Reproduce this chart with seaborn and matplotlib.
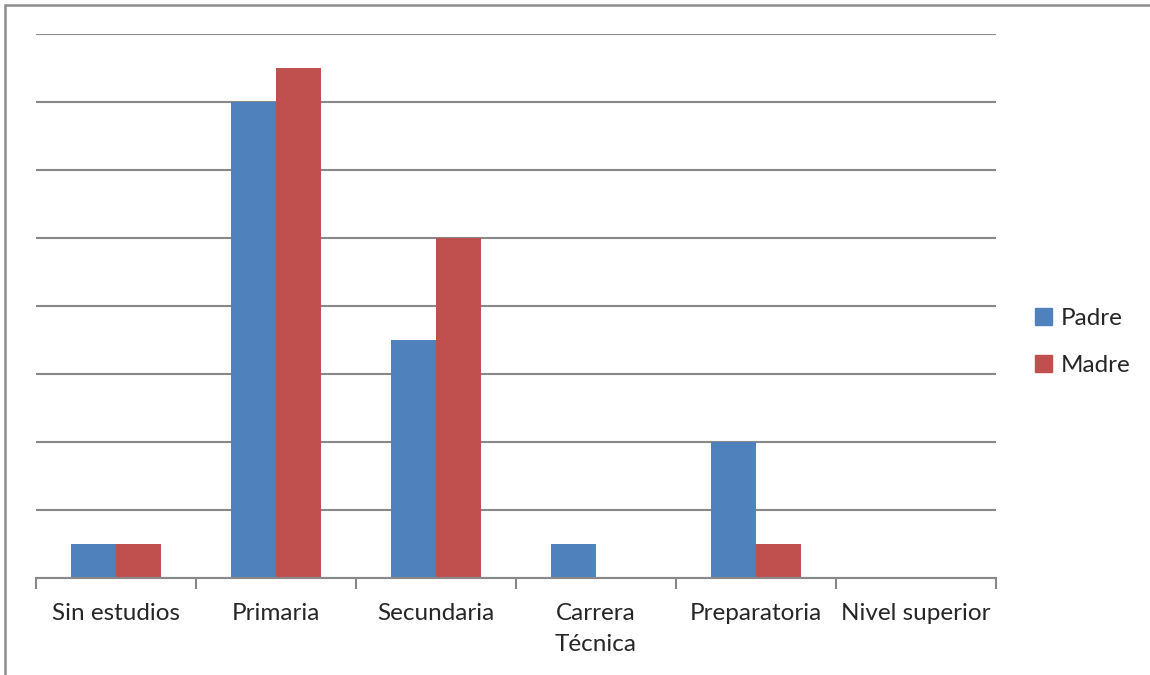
import numpy as np
import pandas as pd
import seaborn as sns
import matplotlib.pyplot as plt
from matplotlib.patches import Rectangle, Patch

categorias = ['Sin estudios', 'Primaria', 'Secundaria', 'Carrera\nTécnica', 'Preparatoria', 'Nivel superior']
padre = [1, 14, 7, 1, 4, 0]
madre = [1, 15, 10, 0, 1, 0]
series = ['Padre', 'Madre']
colores = ['#4F81BD', '#C0504D']

df = pd.DataFrame({'Nivel': categorias * 2,
                   'Valor': padre + madre,
                   'Serie': ['Padre'] * len(padre) + ['Madre'] * len(madre)})

sns.set_style('white')
plt.rcParams['font.family'] = ['Lato', 'DejaVu Sans']

fig = plt.figure(figsize=(11.5, 6.75), dpi=100)
ax = fig.add_axes([36 / 1150, 1 - 578 / 675, 960 / 1150, 544 / 675])

sns.barplot(data=df, x='Nivel', y='Valor', hue='Serie', hue_order=series,
            palette=colores, width=0.5625, gap=0, ax=ax, legend=False,
            saturation=1, linewidth=0)

ax.set_ylim(0, 16)
ax.set_xlim(-0.5, len(categorias) - 0.5)
ax.set_yticks(np.arange(0, 17, 2))
ax.set_yticklabels([])
ax.yaxis.grid(True, color='#888888', linewidth=1.5)
ax.set_axisbelow(True)
ax.tick_params(axis='y', length=0)
for s in ['top', 'right', 'left']:
    ax.spines[s].set_visible(False)
ax.spines['bottom'].set_color('#888888')
ax.spines['bottom'].set_linewidth(1.5)

ax.set_xticks(np.arange(-0.5, len(categorias), 1), minor=False)
ax.set_xticklabels([])
ax.tick_params(axis='x', which='major', bottom=True, length=8, color='#888888', width=1.5, direction='out')
ax.set_xticks(np.arange(len(categorias)), minor=True)
ax.set_xticklabels(categorias, minor=True, fontsize=17.5, va='top', linespacing=1.6)
ax.tick_params(axis='x', which='minor', bottom=True, length=0, pad=18)
ax.set_xlabel('')
ax.set_ylabel('')

handles = [Patch(color=c, label=s) for s, c in zip(series, colores)]
fig.legend(handles=handles, loc='center left', bbox_to_anchor=(1013 / 1150, 1 - 342 / 675),
           frameon=False, fontsize=17.5, handlelength=0.7, handleheight=0.7,
           handletextpad=0.35, labelspacing=1.1)

fig.patches.append(Rectangle((5 / 1150, -0.1), 1.2, 1 - 5 / 675 + 0.1, transform=fig.transFigure,
                             fill=False, edgecolor='#8c8c8c', linewidth=1.8))

fig.savefig('out.png', dpi=100)
